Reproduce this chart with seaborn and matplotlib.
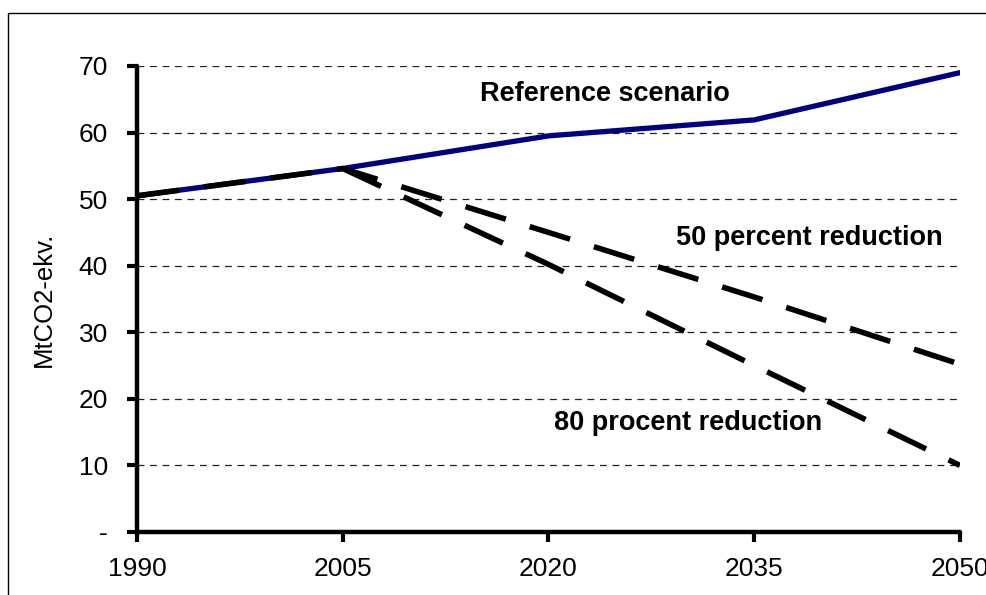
import matplotlib
matplotlib.use("Agg")
import matplotlib.pyplot as plt
import seaborn as sns
import pandas as pd
import numpy as np
from matplotlib.patches import Rectangle

# =============================
# DATA
# =============================
years = [1990, 2005, 2020, 2035, 2050]
reference = [50.5, 54.6, 59.5, 61.9, 69.0]
reduction_50 = [50.5, 54.6, 45.0, 35.3, 25.2]
reduction_80 = [np.nan, 54.6, 40.2, 25.0, 10.0]
y_ticks = [0, 10, 20, 30, 40, 50, 60, 70]
y_tick_labels = ['-', '10', '20', '30', '40', '50', '60', '70']

df = pd.DataFrame({'Year': years, 'Reference': reference,
                   'Red50': reduction_50, 'Red80': reduction_80})

# =============================
# PLOT
# =============================
sns.set_style('white')
plt.rcParams['font.family'] = ['Liberation Sans', 'DejaVu Sans']
plt.rcParams['text.color'] = 'black'
plt.rcParams['axes.labelcolor'] = 'black'

fig = plt.figure(figsize=(9.87, 5.95), dpi=100)
ax = fig.add_axes([0.1388, 0.1059, 0.8338, 0.7832])

# horizontal dashed grid
for v in y_ticks[1:]:
    ax.axhline(v, color='#222222', linewidth=0.9, dashes=(5.5, 4.5), zorder=0)

sns.lineplot(data=df, x='Year', y='Reference', color='#000080', linewidth=3.8, ax=ax)
for col in ['Red50', 'Red80']:
    sns.lineplot(data=df.dropna(subset=[col]), x='Year', y=col, color='black',
                 linewidth=4.0, ax=ax)
    ax.lines[-1].set_dashes((7.6, 4.5))

ax.set_xlim(1990, 2050)
ax.set_ylim(0, 70)
ax.set_xticks(years)
ax.set_xticklabels([str(y) for y in years])
ax.set_yticks(y_ticks)
ax.set_yticklabels(y_tick_labels)
ax.set_xlabel('')
ax.set_ylabel('MtCO2-ekv.', fontsize=18.5, labelpad=16)

for side in ['top', 'right']:
    ax.spines[side].set_visible(False)
for side in ['left', 'bottom']:
    ax.spines[side].set_linewidth(3.2)
    ax.spines[side].set_color('black')
    ax.spines[side].set_capstyle('round')

ax.tick_params(axis='both', which='major', direction='out', length=7, width=3,
               labelsize=19, colors='black', pad=14, left=True, bottom=True)
ax.tick_params(axis='x', pad=11)

ax.text(2024.1, 65.8, 'Reference scenario', fontsize=19.5, fontweight='bold', ha='center', va='center')
ax.text(2039.0, 44.2, '50 percent reduction', fontsize=19.5, fontweight='bold', ha='center', va='center')
ax.text(2030.2, 16.4, '80 procent reduction', fontsize=19.5, fontweight='bold', ha='center', va='center')

# outer chart border
fig.patches.append(Rectangle((8 / 987, -0.01), 1.0, 1 - 13 / 595 + 0.01,
                             transform=fig.transFigure, fill=False,
                             edgecolor='black', linewidth=1.0))

plt.savefig('out.png', dpi=100)
plt.close()
